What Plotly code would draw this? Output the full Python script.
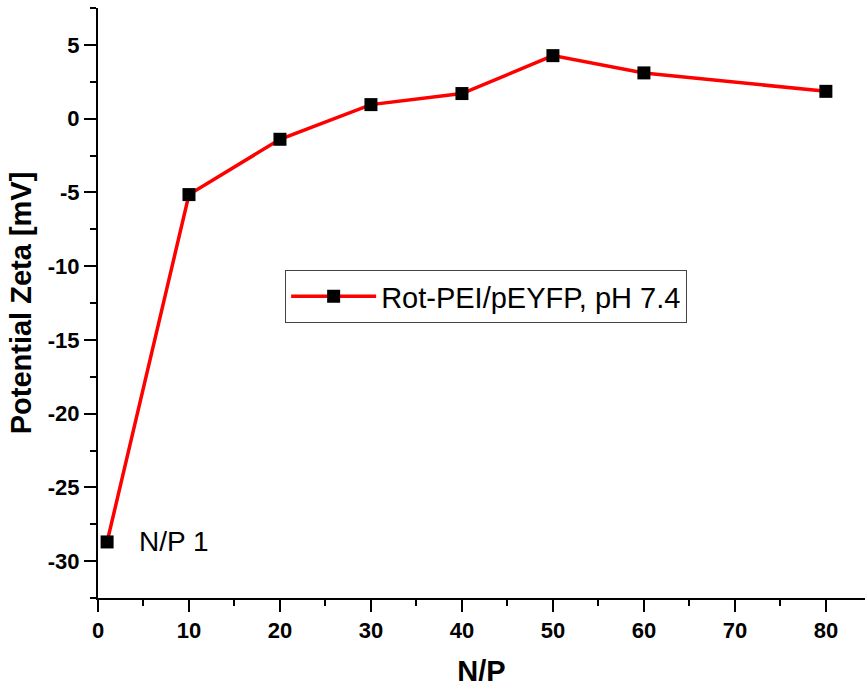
import plotly.graph_objects as go

np_ratio = [1, 10, 20, 30, 40, 50, 60, 80]
zeta_mv = [-28.7, -5.15, -1.4, 0.95, 1.7, 4.27, 3.1, 1.85]
series_name = "Rot-PEI/pEYFP, pH 7.4"

x_ticks = [0, 10, 20, 30, 40, 50, 60, 70, 80]
x_labels = [str(v) for v in x_ticks]
y_ticks = [5, 0, -5, -10, -15, -20, -25, -30]
y_labels = [str(v) for v in y_ticks]

fig = go.Figure()
fig.add_trace(go.Scatter(
    x=np_ratio, y=zeta_mv, mode="lines+markers", name=series_name,
    line=dict(color="#ff0000", width=3.5),
    marker=dict(symbol="square", size=13, color="black"),
))

fig.add_annotation(x=np_ratio[0], y=zeta_mv[0], xref="x", yref="y",
                   text="N/P 1", showarrow=False, xanchor="left", xshift=30,
                   font=dict(family="Liberation Sans, Arial", size=28, color="black"))

axis_font = dict(family="Liberation Sans, Arial", size=22, color="black", weight="bold")
title_font = dict(family="Liberation Sans, Arial", size=29, color="black", weight="bold")

fig.update_layout(
    width=865, height=687,
    margin=dict(l=98, r=0, t=8, b=89),
    plot_bgcolor="white", paper_bgcolor="white",
    showlegend=True,
    legend=dict(x=0.244, y=0.556, xanchor="left", yanchor="top",
                bordercolor="#444", borderwidth=1, bgcolor="white",
                itemwidth=85,
                font=dict(family="Liberation Sans, Arial", size=29, color="black")),
    xaxis=dict(range=[0, 84.3], tickvals=x_ticks, ticktext=x_labels,
               showgrid=False, zeroline=False, showline=True, linecolor="black", linewidth=2,
               ticks="outside", ticklen=12, tickwidth=2, tickcolor="black",
               tickfont=axis_font,
               minor=dict(dtick=5, tick0=5, ticks="outside", ticklen=6, tickwidth=2, tickcolor="black"),
               title=dict(text="N/P", font=title_font, standoff=18)),
    yaxis=dict(range=[-32.5, 7.5], tickvals=y_ticks, ticktext=y_labels,
               showgrid=False, zeroline=False, showline=True, linecolor="black", linewidth=2,
               ticks="outside", ticklen=12, tickwidth=2, tickcolor="black",
               tickfont=axis_font,
               minor=dict(dtick=2.5, tick0=2.5, ticks="outside", ticklen=6, tickwidth=2, tickcolor="black"),
               title=dict(text="Potential Zeta [mV]", font=title_font, standoff=8)),
)

fig.write_html("out.html")
